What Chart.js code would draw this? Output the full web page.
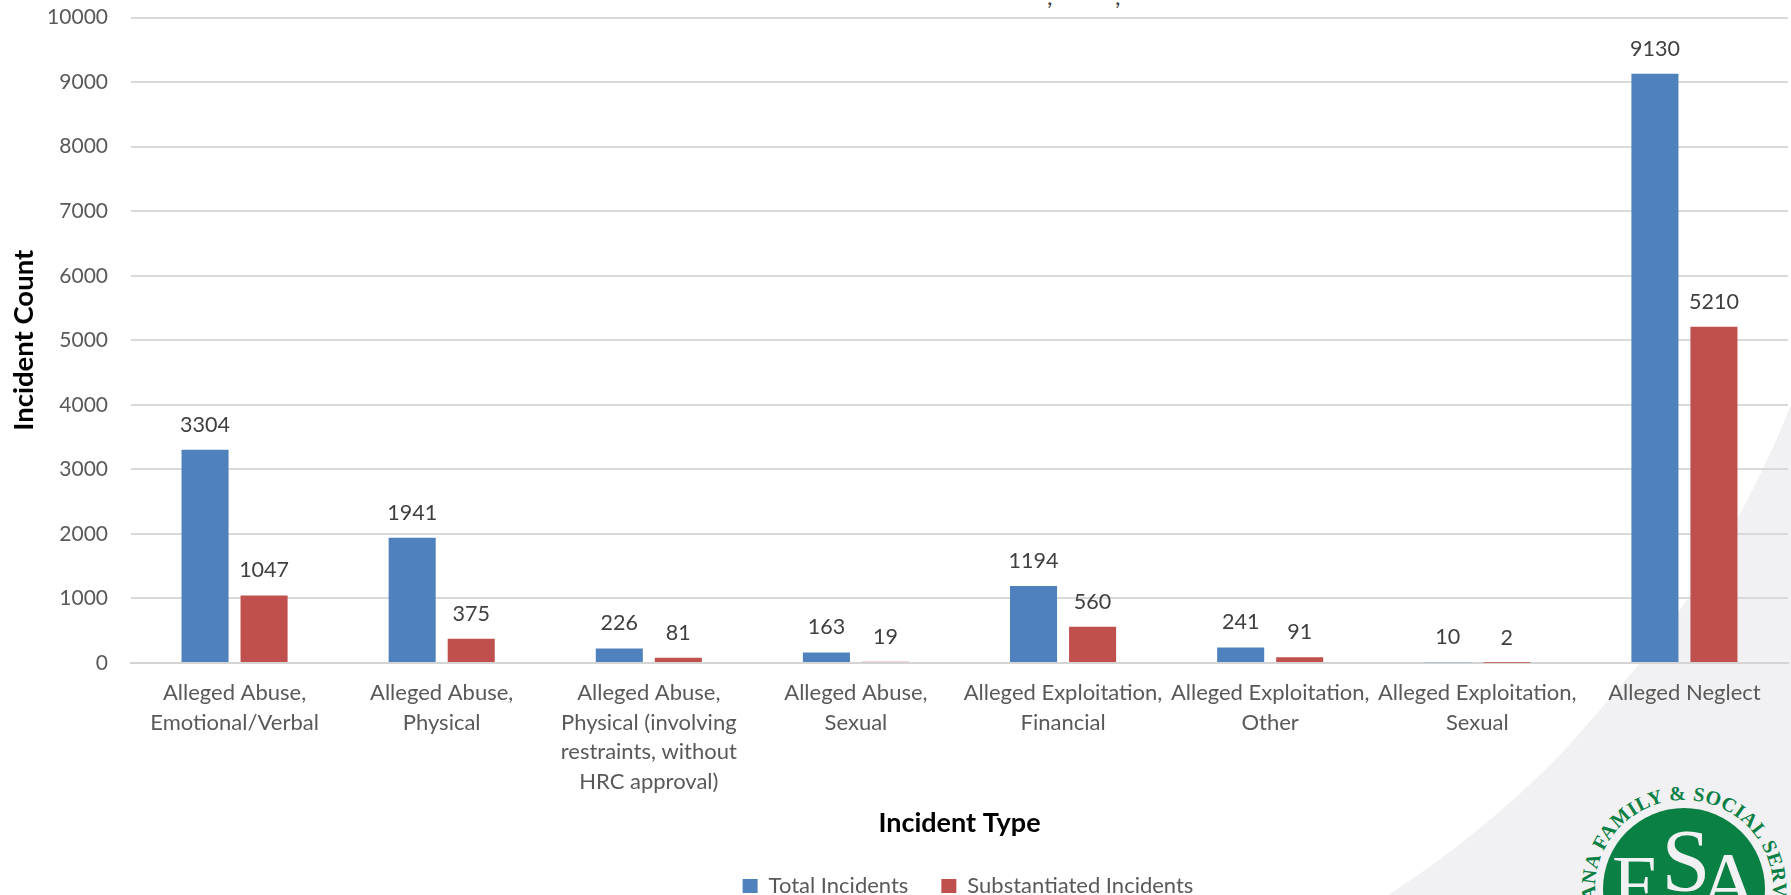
<!DOCTYPE html>
<html>
<head>
<meta charset="utf-8">
<title>Incident Count by Incident Type</title>
<script src="https://cdn.jsdelivr.net/npm/chart.js@4/dist/chart.umd.min.js"></script>
<style>
  html, body { margin: 0; padding: 0; background: #fff; overflow: hidden; }
  #wrap { position: relative; width: 1791px; height: 895px; overflow: hidden; }
  #bg { position: absolute; left: 0; top: 0; }
  #myChart { position: absolute; left: 0; top: -18px; }
  .clipped { position: absolute; top: -19px; font: 24px Lato, sans-serif; color: #404040; }
</style>
</head>
<body>
<div id="wrap">
  <svg id="bg" width="1791" height="895" viewBox="0 0 1791 895">
    <path d="M1791 405 C1745 520 1690 600 1640 663 C1600 710 1570 745 1553 762 C1505 810 1450 855 1388 895 L1791 895 Z" fill="#f1f1f3"/>
    <defs>
      <path id="ring" d="M1684 978 A89 89 0 1 1 1684.1 978"/>
    </defs>
    <circle cx="1684" cy="889" r="81" fill="#0b8045"/>
    <text font-family="Liberation Serif" font-weight="700" font-size="20" fill="#0b8045" letter-spacing="0.6">
      <textPath href="#ring" startOffset="50%" text-anchor="middle">INDIANA FAMILY &amp; SOCIAL SERVICES</textPath>
    </text>
    <g font-family="Liberation Serif" fill="#f1f1f3">
      <text x="1612" y="911" font-size="80">F</text>
      <text x="1686" y="890" font-size="88" text-anchor="middle">S</text>
      <text x="1698" y="911" font-size="85">A</text>
    </g>
  </svg>
  <span class="clipped" style="left:1047px">,</span>
  <span class="clipped" style="left:1115px">,</span>
  <canvas id="myChart" width="1791" height="913"></canvas>
</div>
<script>
const categories = [
  ["Alleged Abuse,", "Emotional/Verbal"],
  ["Alleged Abuse,", "Physical"],
  ["Alleged Abuse,", "Physical (involving", "restraints, without", "HRC approval)"],
  ["Alleged Abuse,", "Sexual"],
  ["Alleged Exploitation,", "Financial"],
  ["Alleged Exploitation,", "Other"],
  ["Alleged Exploitation,", "Sexual"],
  ["Alleged Neglect"],
];
const totalIncidents = [3304, 1941, 226, 163, 1194, 241, 10, 9130];
const substantiatedIncidents = [1047, 375, 81, 19, 560, 91, 2, 5210];

const FONT = "Lato, Carlito, sans-serif";

// prints each bar's value just above it
const valueLabels = {
  id: "valueLabels",
  afterDatasetsDraw(chart) {
    const ctx = chart.ctx;
    ctx.save();
    ctx.font = "21.5px " + FONT;
    ctx.fillStyle = "#404040";
    ctx.textAlign = "center";
    ctx.textBaseline = "middle";
    chart.data.datasets.forEach((ds, i) => {
      chart.getDatasetMeta(i).data.forEach((bar, j) => {
        ctx.fillText(ds.data[j], bar.x, bar.y - 25);
      });
    });
    ctx.restore();
  },
};

// legend sits right of centre
const legendShift = {
  id: "legendShift",
  afterLayout(chart) {
    chart.legend.left += 70;
    chart.legend.right += 70;
  },
};

Chart.defaults.font.family = FONT;

new Chart(document.getElementById("myChart"), {
  type: "bar",
  data: {
    labels: categories,
    datasets: [
      { label: "Total Incidents", data: totalIncidents, backgroundColor: "#4f81bd" },
      { label: "Substantiated Incidents", data: substantiatedIncidents, backgroundColor: "#c0504d" },
    ],
  },
  options: {
    responsive: false,
    animation: false,
    layout: { padding: { top: 0, left: 8, right: 3, bottom: -12 } },
    datasets: { bar: { categoryPercentage: 0.57, barPercentage: 0.797 } },
    plugins: {
      tooltip: { enabled: false },
      legend: {
        position: "bottom",
        labels: {
          boxWidth: 15,
          boxHeight: 14,
          padding: 33,
          color: "#595959",
          font: { size: 22 },
        },
      },
    },
    scales: {
      x: {
        grid: { display: false },
        border: { color: "#d4d4d4", width: 2 },
        afterFit(scale) { scale.height = 179; },
        ticks: {
          color: "#595959",
          font: { size: 22, lineHeight: 1.35 },
          padding: 7,
          maxRotation: 0,
          autoSkip: false,
        },
        title: {
          display: true,
          text: "Incident Type",
          color: "#000",
          font: { size: 27, weight: "bold" },
          padding: { top: 12, bottom: 3 },
        },
      },
      y: {
        min: 0,
        max: 10000,
        afterFit(scale) { scale.width = 123; },
        grid: { color: "#d9d9d9", lineWidth: 2, drawTicks: false },
        border: { display: false },
        ticks: {
          stepSize: 1000,
          color: "#595959",
          font: { size: 21 },
          padding: 23,
          callback: (v) => String(v),
        },
        title: {
          display: true,
          text: "Incident Count",
          color: "#000",
          font: { size: 27.5, weight: "bold" },
          padding: { top: 0, bottom: 0 },
        },
      },
    },
  },
  plugins: [valueLabels, legendShift],
});
</script>
</body>
</html>
